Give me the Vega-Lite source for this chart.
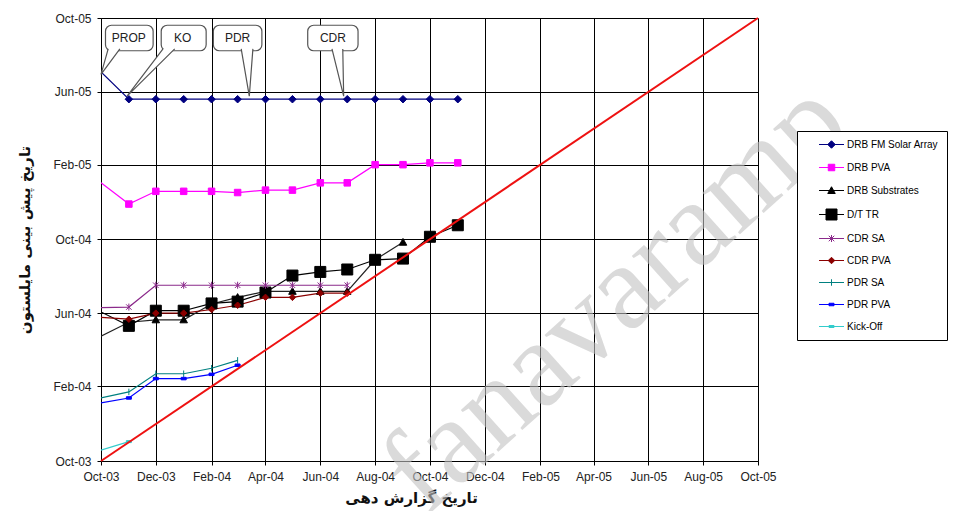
{
  "$schema": "https://vega.github.io/schema/vega-lite/v6.json",
  "width": 657,
  "height": 443,
  "autosize": {"type": "none"},
  "padding": {"left": 101, "top": 18, "right": 195, "bottom": 50},
  "background": "white",
  "config": {
    "view": {"stroke": null},
    "axis": {
      "grid": true,
      "gridColor": "#000000",
      "gridWidth": 1,
      "gridOpacity": 1,
      "domainColor": "#000000",
      "domainWidth": 1,
      "tickColor": "#000000",
      "tickSize": 4,
      "labelFont": "Liberation Sans",
      "labelFontSize": 12,
      "labelColor": "#222222",
      "labelPadding": 6,
      "labelOverlap": false,
      "labelFlush": false,
      "labelExpr": "utcFormat(datum.value, '%b-%y')",
      "titleFont": "DejaVu Sans",
      "titleFontSize": 15,
      "titleFontWeight": "bold",
      "titleColor": "#111111"
    },
    "legend": {
      "orient": "none",
      "legendX": 696,
      "legendY": 113,
      "padding": 8,
      "strokeColor": "#000000",
      "fillColor": "#ffffff",
      "labelFont": "Liberation Sans",
      "labelFontSize": 10,
      "labelColor": "#000000",
      "symbolSize": 100,
      "symbolStrokeWidth": 1,
      "symbolOffset": 21,
      "labelOffset": 10,
      "rowPadding": 11,
      "title": null
    }
  },
  "datasets": {
    "series": [
      {"series": "DRB FM Solar Array", "report": "2003-10-01", "forecast": "2005-07-04"},
      {"series": "DRB FM Solar Array", "report": "2003-11-01", "forecast": "2005-05-20"},
      {"series": "DRB FM Solar Array", "report": "2003-12-01", "forecast": "2005-05-20"},
      {"series": "DRB FM Solar Array", "report": "2004-01-01", "forecast": "2005-05-20"},
      {"series": "DRB FM Solar Array", "report": "2004-02-01", "forecast": "2005-05-20"},
      {"series": "DRB FM Solar Array", "report": "2004-03-01", "forecast": "2005-05-20"},
      {"series": "DRB FM Solar Array", "report": "2004-04-01", "forecast": "2005-05-20"},
      {"series": "DRB FM Solar Array", "report": "2004-05-01", "forecast": "2005-05-20"},
      {"series": "DRB FM Solar Array", "report": "2004-06-01", "forecast": "2005-05-20"},
      {"series": "DRB FM Solar Array", "report": "2004-07-01", "forecast": "2005-05-20"},
      {"series": "DRB FM Solar Array", "report": "2004-08-01", "forecast": "2005-05-20"},
      {"series": "DRB FM Solar Array", "report": "2004-09-01", "forecast": "2005-05-20"},
      {"series": "DRB FM Solar Array", "report": "2004-10-01", "forecast": "2005-05-20"},
      {"series": "DRB FM Solar Array", "report": "2004-11-01", "forecast": "2005-05-20"},
      {"series": "DRB PVA", "report": "2003-10-01", "forecast": "2005-01-02"},
      {"series": "DRB PVA", "report": "2003-11-01", "forecast": "2004-11-28"},
      {"series": "DRB PVA", "report": "2003-12-01", "forecast": "2004-12-19"},
      {"series": "DRB PVA", "report": "2004-01-01", "forecast": "2004-12-19"},
      {"series": "DRB PVA", "report": "2004-02-01", "forecast": "2004-12-19"},
      {"series": "DRB PVA", "report": "2004-03-01", "forecast": "2004-12-17"},
      {"series": "DRB PVA", "report": "2004-04-01", "forecast": "2004-12-21"},
      {"series": "DRB PVA", "report": "2004-05-01", "forecast": "2004-12-21"},
      {"series": "DRB PVA", "report": "2004-06-01", "forecast": "2005-01-02"},
      {"series": "DRB PVA", "report": "2004-07-01", "forecast": "2005-01-02"},
      {"series": "DRB PVA", "report": "2004-08-01", "forecast": "2005-02-01"},
      {"series": "DRB PVA", "report": "2004-09-01", "forecast": "2005-02-01"},
      {"series": "DRB PVA", "report": "2004-10-01", "forecast": "2005-02-04"},
      {"series": "DRB PVA", "report": "2004-11-01", "forecast": "2005-02-04"},
      {"series": "DRB Substrates", "report": "2003-10-01", "forecast": "2004-04-24"},
      {"series": "DRB Substrates", "report": "2003-11-01", "forecast": "2004-05-17"},
      {"series": "DRB Substrates", "report": "2003-12-01", "forecast": "2004-05-21"},
      {"series": "DRB Substrates", "report": "2004-01-01", "forecast": "2004-05-21"},
      {"series": "DRB Substrates", "report": "2004-02-01", "forecast": "2004-06-16"},
      {"series": "DRB Substrates", "report": "2004-03-01", "forecast": "2004-06-27"},
      {"series": "DRB Substrates", "report": "2004-04-01", "forecast": "2004-07-07"},
      {"series": "DRB Substrates", "report": "2004-05-01", "forecast": "2004-07-07"},
      {"series": "DRB Substrates", "report": "2004-06-01", "forecast": "2004-07-07"},
      {"series": "DRB Substrates", "report": "2004-07-01", "forecast": "2004-07-07"},
      {"series": "DRB Substrates", "report": "2004-08-01", "forecast": "2004-08-28"},
      {"series": "DRB Substrates", "report": "2004-09-01", "forecast": "2004-09-26"},
      {"series": "D/T TR", "report": "2003-10-01", "forecast": "2004-06-03"},
      {"series": "D/T TR", "report": "2003-11-01", "forecast": "2004-05-11"},
      {"series": "D/T TR", "report": "2003-12-01", "forecast": "2004-06-05"},
      {"series": "D/T TR", "report": "2004-01-01", "forecast": "2004-06-05"},
      {"series": "D/T TR", "report": "2004-02-01", "forecast": "2004-06-17"},
      {"series": "D/T TR", "report": "2004-03-01", "forecast": "2004-06-20"},
      {"series": "D/T TR", "report": "2004-04-01", "forecast": "2004-07-05"},
      {"series": "D/T TR", "report": "2004-05-01", "forecast": "2004-08-02"},
      {"series": "D/T TR", "report": "2004-06-01", "forecast": "2004-08-08"},
      {"series": "D/T TR", "report": "2004-07-01", "forecast": "2004-08-12"},
      {"series": "D/T TR", "report": "2004-08-01", "forecast": "2004-08-28"},
      {"series": "D/T TR", "report": "2004-09-01", "forecast": "2004-08-30"},
      {"series": "D/T TR", "report": "2004-10-01", "forecast": "2004-10-05"},
      {"series": "D/T TR", "report": "2004-11-01", "forecast": "2004-10-24"},
      {"series": "CDR SA", "report": "2003-10-01", "forecast": "2004-06-10"},
      {"series": "CDR SA", "report": "2003-11-01", "forecast": "2004-06-11"},
      {"series": "CDR SA", "report": "2003-12-01", "forecast": "2004-07-17"},
      {"series": "CDR SA", "report": "2004-01-01", "forecast": "2004-07-17"},
      {"series": "CDR SA", "report": "2004-02-01", "forecast": "2004-07-17"},
      {"series": "CDR SA", "report": "2004-03-01", "forecast": "2004-07-17"},
      {"series": "CDR SA", "report": "2004-04-01", "forecast": "2004-07-17"},
      {"series": "CDR SA", "report": "2004-05-01", "forecast": "2004-07-17"},
      {"series": "CDR SA", "report": "2004-06-01", "forecast": "2004-07-17"},
      {"series": "CDR SA", "report": "2004-07-01", "forecast": "2004-07-17"},
      {"series": "CDR PVA", "report": "2003-10-01", "forecast": "2004-05-25"},
      {"series": "CDR PVA", "report": "2003-11-01", "forecast": "2004-05-22"},
      {"series": "CDR PVA", "report": "2003-12-01", "forecast": "2004-06-01"},
      {"series": "CDR PVA", "report": "2004-01-01", "forecast": "2004-06-01"},
      {"series": "CDR PVA", "report": "2004-02-01", "forecast": "2004-06-07"},
      {"series": "CDR PVA", "report": "2004-03-01", "forecast": "2004-06-14"},
      {"series": "CDR PVA", "report": "2004-04-01", "forecast": "2004-06-27"},
      {"series": "CDR PVA", "report": "2004-05-01", "forecast": "2004-06-27"},
      {"series": "CDR PVA", "report": "2004-06-01", "forecast": "2004-07-04"},
      {"series": "CDR PVA", "report": "2004-07-01", "forecast": "2004-07-04"},
      {"series": "PDR SA", "report": "2003-10-01", "forecast": "2004-01-13"},
      {"series": "PDR SA", "report": "2003-11-01", "forecast": "2004-01-23"},
      {"series": "PDR SA", "report": "2003-12-01", "forecast": "2004-02-22"},
      {"series": "PDR SA", "report": "2004-01-01", "forecast": "2004-02-22"},
      {"series": "PDR SA", "report": "2004-02-01", "forecast": "2004-03-02"},
      {"series": "PDR SA", "report": "2004-03-01", "forecast": "2004-03-15"},
      {"series": "PDR PVA", "report": "2003-10-01", "forecast": "2004-01-05"},
      {"series": "PDR PVA", "report": "2003-11-01", "forecast": "2004-01-13"},
      {"series": "PDR PVA", "report": "2003-12-01", "forecast": "2004-02-14"},
      {"series": "PDR PVA", "report": "2004-01-01", "forecast": "2004-02-14"},
      {"series": "PDR PVA", "report": "2004-02-01", "forecast": "2004-02-21"},
      {"series": "PDR PVA", "report": "2004-03-01", "forecast": "2004-03-07"},
      {"series": "Kick-Off", "report": "2003-10-01", "forecast": "2003-10-19"},
      {"series": "Kick-Off", "report": "2003-11-01", "forecast": "2003-11-02"}
    ],
    "reference": [
      {"report": "2003-10-01", "forecast": "2003-10-01"},
      {"report": "2005-10-01", "forecast": "2005-10-01"}
    ],
    "callouts": [
      {"label": "PROP", "x1": "2003-10-06", "x2": "2003-11-28", "xc": "2003-11-01", "y1": "2005-09-19", "y2": "2005-08-08", "yc": "2005-08-29"},
      {"label": "KO", "x1": "2003-12-07", "x2": "2004-01-26", "xc": "2003-12-31", "y1": "2005-09-19", "y2": "2005-08-08", "yc": "2005-08-29"},
      {"label": "PDR", "x1": "2004-02-03", "x2": "2004-03-28", "xc": "2004-03-01", "y1": "2005-09-19", "y2": "2005-08-08", "yc": "2005-08-29"},
      {"label": "CDR", "x1": "2004-05-18", "x2": "2004-07-13", "xc": "2004-06-15", "y1": "2005-09-19", "y2": "2005-08-08", "yc": "2005-08-29"}
    ],
    "tails": [
      {"callout": "PROP", "k": 1, "x": "2003-10-09", "y": "2005-08-11"},
      {"callout": "PROP", "k": 2, "x": "2003-10-01", "y": "2005-06-30"},
      {"callout": "PROP", "k": 3, "x": "2003-10-22", "y": "2005-08-11"},
      {"callout": "KO", "k": 1, "x": "2003-12-09", "y": "2005-08-11"},
      {"callout": "KO", "k": 2, "x": "2003-10-30", "y": "2005-05-25"},
      {"callout": "KO", "k": 3, "x": "2003-12-22", "y": "2005-08-11"},
      {"callout": "PDR", "k": 1, "x": "2004-03-05", "y": "2005-08-11"},
      {"callout": "PDR", "k": 2, "x": "2004-03-14", "y": "2005-05-25"},
      {"callout": "PDR", "k": 3, "x": "2004-03-18", "y": "2005-08-11"},
      {"callout": "CDR", "k": 1, "x": "2004-06-14", "y": "2005-08-11"},
      {"callout": "CDR", "k": 2, "x": "2004-06-27", "y": "2005-05-25"},
      {"callout": "CDR", "k": 3, "x": "2004-06-26", "y": "2005-08-11"}
    ],
    "watermark": [
      {"text": "fanavaramp", "x": "2005-04-25", "y": "2004-06-28"}
    ]
  },
  "layer": [
    {
      "data": {"name": "series"},
      "mark": {"type": "line", "strokeWidth": 1.2, "clip": true},
      "encoding": {
        "x": {
          "field": "report", "type": "temporal",
          "scale": {"type": "utc", "nice": false, "domain": [{"year": 2003, "month": 10, "date": 1, "utc": true}, {"year": 2005, "month": 10, "date": 1, "utc": true}]},
          "axis": {
            "values": [
              {"year": 2003, "month": 10, "date": 1, "utc": true},
              {"year": 2003, "month": 12, "date": 1, "utc": true},
              {"year": 2004, "month": 2, "date": 1, "utc": true},
              {"year": 2004, "month": 4, "date": 1, "utc": true},
              {"year": 2004, "month": 6, "date": 1, "utc": true},
              {"year": 2004, "month": 8, "date": 1, "utc": true},
              {"year": 2004, "month": 10, "date": 1, "utc": true},
              {"year": 2004, "month": 12, "date": 1, "utc": true},
              {"year": 2005, "month": 2, "date": 1, "utc": true},
              {"year": 2005, "month": 4, "date": 1, "utc": true},
              {"year": 2005, "month": 6, "date": 1, "utc": true},
              {"year": 2005, "month": 8, "date": 1, "utc": true},
              {"year": 2005, "month": 10, "date": 1, "utc": true}
            ],
            "title": "تاریخ گزارش دهی",
            "titleX": 310,
            "titlePadding": 8
          }
        },
        "y": {
          "field": "forecast", "type": "temporal",
          "scale": {"type": "utc", "nice": false, "domain": [{"year": 2003, "month": 10, "date": 1, "utc": true}, {"year": 2005, "month": 10, "date": 1, "utc": true}]},
          "axis": {
            "values": [
              {"year": 2003, "month": 10, "date": 1, "utc": true},
              {"year": 2003, "month": 12, "date": 1, "utc": true},
              {"year": 2004, "month": 2, "date": 1, "utc": true},
              {"year": 2004, "month": 4, "date": 1, "utc": true},
              {"year": 2004, "month": 6, "date": 1, "utc": true},
              {"year": 2004, "month": 8, "date": 1, "utc": true},
              {"year": 2004, "month": 10, "date": 1, "utc": true},
              {"year": 2004, "month": 12, "date": 1, "utc": true},
              {"year": 2005, "month": 2, "date": 1, "utc": true},
              {"year": 2005, "month": 4, "date": 1, "utc": true},
              {"year": 2005, "month": 6, "date": 1, "utc": true},
              {"year": 2005, "month": 8, "date": 1, "utc": true},
              {"year": 2005, "month": 10, "date": 1, "utc": true}
            ],
            "title": "تاریخ پیش بینی مایلستون",
            "titlePadding": 20
          }
        },
        "color": {
          "field": "series", "type": "nominal",
          "scale": {
            "domain": ["DRB FM Solar Array", "DRB PVA", "DRB Substrates", "D/T TR", "CDR SA", "CDR PVA", "PDR SA", "PDR PVA", "Kick-Off"],
            "range": ["#000080", "#ff00ff", "#222222", "#000000", "#8b2a8b", "#8b0000", "#008080", "#0000ff", "#33cccc"]
          },
          "legend": null
        }
      }
    },
    {
      "data": {"name": "series"},
      "transform": [{"filter": "time(datum.report) > utc(2003, 9, 15)"}],
      "mark": {"type": "point", "filled": true, "size": 100, "strokeWidth": 1, "opacity": 1},
      "encoding": {
        "x": {"field": "report", "type": "temporal", "scale": {"type": "utc", "nice": false, "domain": [{"year": 2003, "month": 10, "date": 1, "utc": true}, {"year": 2005, "month": 10, "date": 1, "utc": true}]}},
        "y": {"field": "forecast", "type": "temporal", "scale": {"type": "utc", "nice": false, "domain": [{"year": 2003, "month": 10, "date": 1, "utc": true}, {"year": 2005, "month": 10, "date": 1, "utc": true}]}},
        "fill": {
          "field": "series", "type": "nominal",
          "scale": {
            "domain": ["DRB FM Solar Array", "DRB PVA", "DRB Substrates", "D/T TR", "CDR SA", "CDR PVA", "PDR SA", "PDR PVA", "Kick-Off"],
            "range": ["#000080", "#ff00ff", "#000000", "#000000", "#8b2a8b", "#8b0000", "#008080", "#0000ff", "#33cccc"]
          },
          "legend": null
        },
        "stroke": {
          "field": "series", "type": "nominal",
          "scale": {
            "domain": ["DRB FM Solar Array", "DRB PVA", "DRB Substrates", "D/T TR", "CDR SA", "CDR PVA", "PDR SA", "PDR PVA", "Kick-Off"],
            "range": ["#000080", "#ff00ff", "#000000", "#000000", "#8b2a8b", "#8b0000", "#008080", "#0000ff", "#33cccc"]
          },
          "legend": null
        },
        "shape": {
          "field": "series", "type": "nominal",
          "scale": {
            "domain": ["DRB FM Solar Array", "DRB PVA", "DRB Substrates", "D/T TR", "CDR SA", "CDR PVA", "PDR SA", "PDR PVA", "Kick-Off"],
            "range": [
              "M0,-0.75L0.75,0L0,0.75L-0.75,0Z",
              "M-0.65,-0.65L0.65,-0.65L0.65,0.65L-0.65,0.65Z",
              "M0,-0.75L0.75,0.6L-0.75,0.6Z",
              "M-1.1,-1.1L1.1,-1.1L1.1,1.1L-1.1,1.1Z",
              "M-0.55,-0.55L0.55,0.55M-0.55,0.55L0.55,-0.55M0,-0.7L0,0.7",
              "M0,-0.65L0.65,0L0,0.65L-0.65,0Z",
              "M0,-0.65L0,0.65",
              "M-0.5,-0.25L0.5,-0.25L0.5,0.25L-0.5,0.25Z",
              "M-0.5,-0.2L0.5,-0.2L0.5,0.2L-0.5,0.2Z"
            ]
          },
          "legend": null
        }
      }
    },
    {
      "data": {"name": "reference"},
      "mark": {"type": "line", "color": "#ee1111", "strokeWidth": 2},
      "encoding": {
        "x": {"field": "report", "type": "temporal", "scale": {"type": "utc", "nice": false, "domain": [{"year": 2003, "month": 10, "date": 1, "utc": true}, {"year": 2005, "month": 10, "date": 1, "utc": true}]}},
        "y": {"field": "forecast", "type": "temporal", "scale": {"type": "utc", "nice": false, "domain": [{"year": 2003, "month": 10, "date": 1, "utc": true}, {"year": 2005, "month": 10, "date": 1, "utc": true}]}}
      }
    },
    {
      "data": {"name": "series"},
      "transform": [{"filter": "false"}],
      "mark": {"type": "point", "filled": true, "size": 100, "strokeWidth": 1, "opacity": 1},
      "encoding": {
        "x": {"field": "report", "type": "temporal", "scale": {"type": "utc", "nice": false, "domain": [{"year": 2003, "month": 10, "date": 1, "utc": true}, {"year": 2005, "month": 10, "date": 1, "utc": true}]}},
        "y": {"field": "forecast", "type": "temporal", "scale": {"type": "utc", "nice": false, "domain": [{"year": 2003, "month": 10, "date": 1, "utc": true}, {"year": 2005, "month": 10, "date": 1, "utc": true}]}},
        "fill": {
          "field": "series", "type": "nominal",
          "scale": {
            "domain": ["DRB FM Solar Array", "DRB PVA", "DRB Substrates", "D/T TR", "CDR SA", "CDR PVA", "PDR SA", "PDR PVA", "Kick-Off"],
            "range": ["#000080", "#ff00ff", "#000000", "#000000", "#8b2a8b", "#8b0000", "#008080", "#0000ff", "#33cccc"]
          },
          "legend": {}
        },
        "stroke": {
          "field": "series", "type": "nominal",
          "scale": {
            "domain": ["DRB FM Solar Array", "DRB PVA", "DRB Substrates", "D/T TR", "CDR SA", "CDR PVA", "PDR SA", "PDR PVA", "Kick-Off"],
            "range": ["#000080", "#ff00ff", "#000000", "#000000", "#8b2a8b", "#8b0000", "#008080", "#0000ff", "#33cccc"]
          },
          "legend": {}
        },
        "shape": {
          "field": "series", "type": "nominal",
          "scale": {
            "domain": ["DRB FM Solar Array", "DRB PVA", "DRB Substrates", "D/T TR", "CDR SA", "CDR PVA", "PDR SA", "PDR PVA", "Kick-Off"],
            "range": [
              "M-2.5,0L2.5,0M0,-0.75L0.75,0L0,0.75L-0.75,0Z",
              "M-2.5,0L2.5,0M-0.65,-0.65L0.65,-0.65L0.65,0.65L-0.65,0.65Z",
              "M-2.5,0L2.5,0M0,-0.75L0.75,0.6L-0.75,0.6Z",
              "M-2.5,0L2.5,0M-1.1,-1.1L1.1,-1.1L1.1,1.1L-1.1,1.1Z",
              "M-2.5,0L2.5,0M-0.55,-0.55L0.55,0.55M-0.55,0.55L0.55,-0.55M0,-0.7L0,0.7",
              "M-2.5,0L2.5,0M0,-0.65L0.65,0L0,0.65L-0.65,0Z",
              "M-2.5,0L2.5,0M0,-0.65L0,0.65",
              "M-2.5,0L2.5,0M-0.5,-0.25L0.5,-0.25L0.5,0.25L-0.5,0.25Z",
              "M-2.5,0L2.5,0M-0.5,-0.2L0.5,-0.2L0.5,0.2L-0.5,0.2Z"
            ]
          },
          "legend": {}
        }
      }
    },
    {
      "data": {"name": "callouts"},
      "mark": {"type": "rect", "cornerRadius": 6, "fill": "#ffffff", "stroke": "#555555", "strokeWidth": 1.2},
      "encoding": {
        "x": {"field": "x1", "type": "temporal", "scale": {"type": "utc", "nice": false, "domain": [{"year": 2003, "month": 10, "date": 1, "utc": true}, {"year": 2005, "month": 10, "date": 1, "utc": true}]}},
        "x2": {"field": "x2"},
        "y": {"field": "y1", "type": "temporal", "scale": {"type": "utc", "nice": false, "domain": [{"year": 2003, "month": 10, "date": 1, "utc": true}, {"year": 2005, "month": 10, "date": 1, "utc": true}]}},
        "y2": {"field": "y2"}
      }
    },
    {
      "data": {"name": "tails"},
      "mark": {"type": "line", "stroke": "#555555", "strokeWidth": 1.2, "fill": "#ffffff"},
      "encoding": {
        "x": {"field": "x", "type": "temporal", "scale": {"type": "utc", "nice": false, "domain": [{"year": 2003, "month": 10, "date": 1, "utc": true}, {"year": 2005, "month": 10, "date": 1, "utc": true}]}},
        "y": {"field": "y", "type": "temporal", "scale": {"type": "utc", "nice": false, "domain": [{"year": 2003, "month": 10, "date": 1, "utc": true}, {"year": 2005, "month": 10, "date": 1, "utc": true}]}},
        "detail": {"field": "callout", "type": "nominal"},
        "order": {"field": "k", "type": "quantitative"}
      }
    },
    {
      "data": {"name": "callouts"},
      "mark": {"type": "text", "font": "Liberation Sans", "fontSize": 12, "color": "#222222", "align": "center", "baseline": "middle"},
      "encoding": {
        "x": {"field": "xc", "type": "temporal", "scale": {"type": "utc", "nice": false, "domain": [{"year": 2003, "month": 10, "date": 1, "utc": true}, {"year": 2005, "month": 10, "date": 1, "utc": true}]}},
        "y": {"field": "yc", "type": "temporal", "scale": {"type": "utc", "nice": false, "domain": [{"year": 2003, "month": 10, "date": 1, "utc": true}, {"year": 2005, "month": 10, "date": 1, "utc": true}]}},
        "text": {"field": "label", "type": "nominal"}
      }
    },
    {
      "data": {"name": "watermark"},
      "mark": {"type": "text", "font": "Liberation Serif", "fontSize": 122, "color": "#c2c2c2", "opacity": 0.6, "angle": -42, "align": "center", "baseline": "middle"},
      "encoding": {
        "x": {"field": "x", "type": "temporal", "scale": {"type": "utc", "nice": false, "domain": [{"year": 2003, "month": 10, "date": 1, "utc": true}, {"year": 2005, "month": 10, "date": 1, "utc": true}]}},
        "y": {"field": "y", "type": "temporal", "scale": {"type": "utc", "nice": false, "domain": [{"year": 2003, "month": 10, "date": 1, "utc": true}, {"year": 2005, "month": 10, "date": 1, "utc": true}]}},
        "text": {"field": "text", "type": "nominal"}
      }
    }
  ],
  "resolve": {
    "scale": {"color": "independent", "fill": "independent", "stroke": "independent", "shape": "independent"}
  }
}
